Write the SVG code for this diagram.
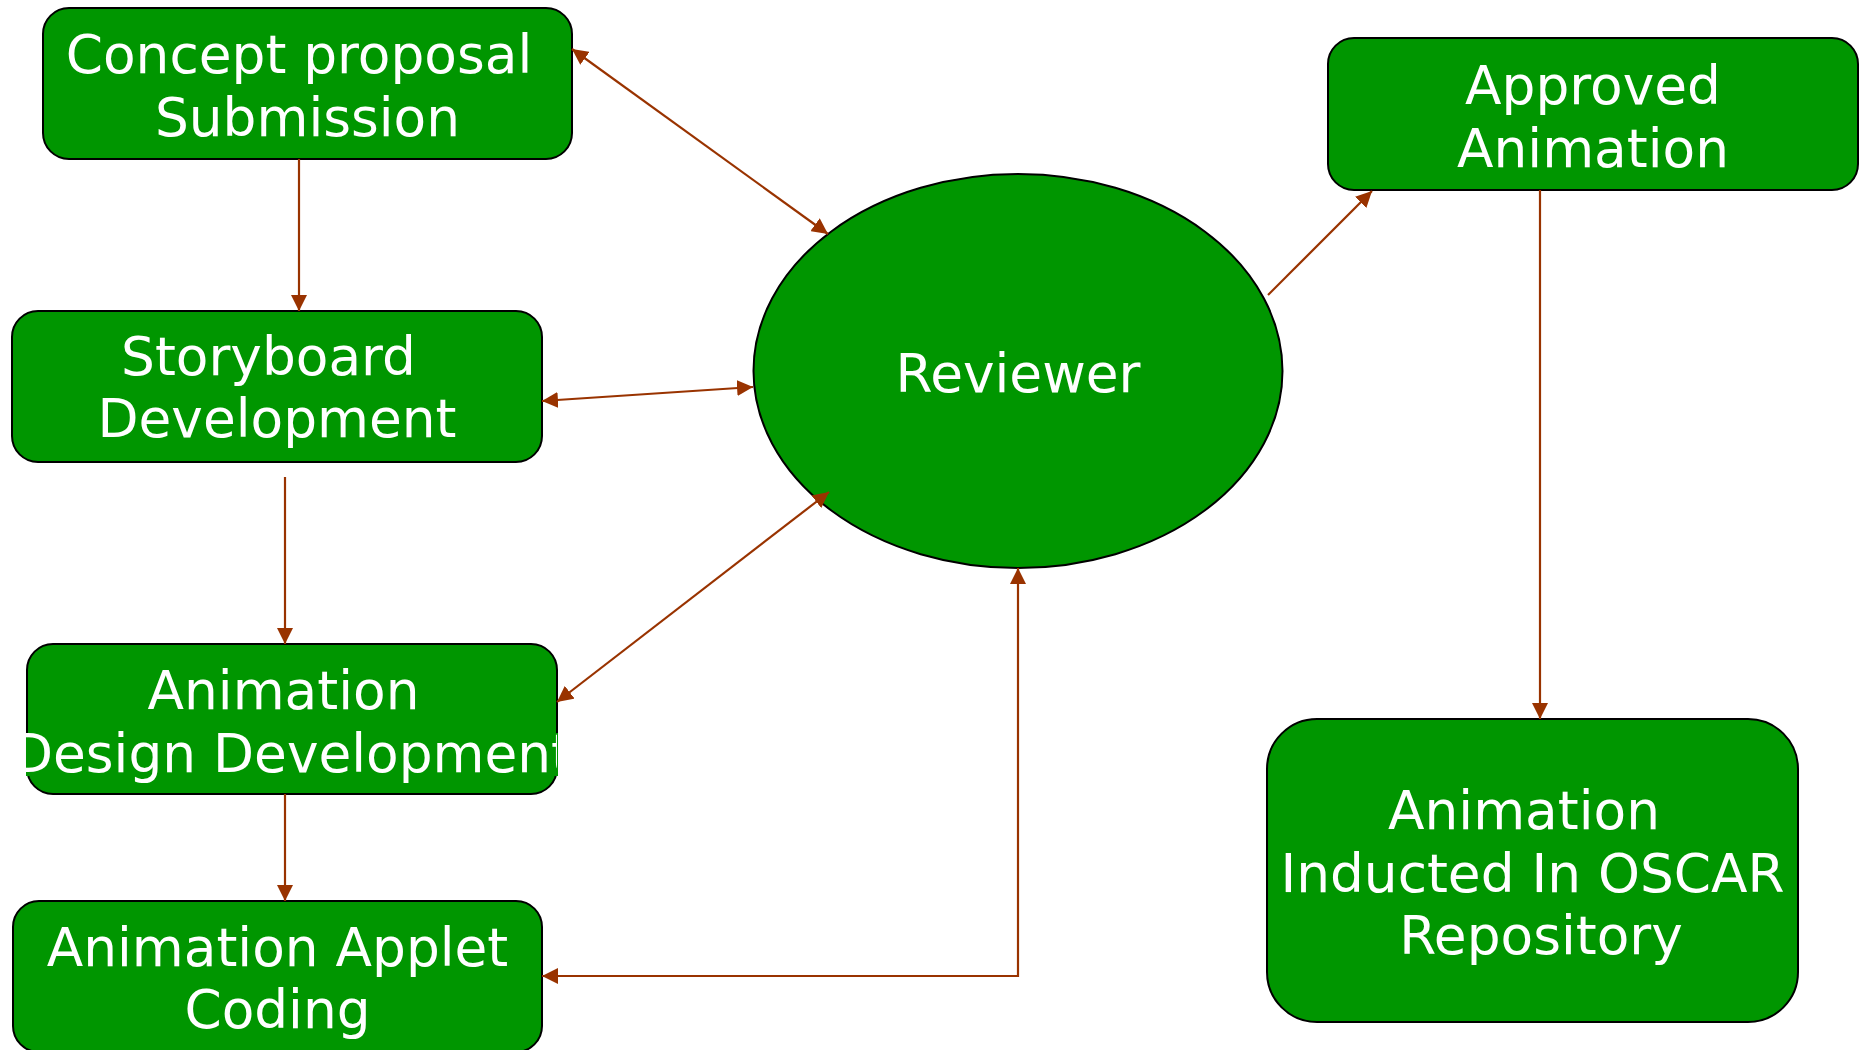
<svg xmlns="http://www.w3.org/2000/svg" width="1869" height="1050" viewBox="0 0 1869 1050">
<style>
.box{fill:#009600;stroke:#000;stroke-width:2}
.t{font-family:"DejaVu Sans",sans-serif;font-size:53.33px;fill:#fff;text-anchor:middle}
.c{fill:none;stroke:#993300;stroke-width:2.2}
</style>
<defs>
<marker id="ah" markerUnits="userSpaceOnUse" markerWidth="17" markerHeight="16" refX="16" refY="8" orient="auto-start-reverse">
<path d="M0,0 L16,8 L0,16 z" fill="#993300"/>
</marker>
<clipPath id="adclip"><rect x="25" y="600" width="532" height="250"/></clipPath>
</defs>
<rect width="1869" height="1050" fill="#fff"/>
<g id="concept">
<rect class="box" x="43" y="8" width="529" height="151" rx="26"/>
<text class="t" x="299" y="73">Concept proposal</text>
<text class="t" x="307.5" y="136">Submission</text>
</g>
<g id="storyboard">
<rect class="box" x="12" y="311" width="530" height="151" rx="26"/>
<text class="t" x="268.5" y="375">Storyboard</text>
<text class="t" x="277" y="437">Development</text>
</g>
<g id="animdesign">
<rect class="box" x="27" y="644" width="530" height="150" rx="26"/>
<rect x="26" y="733" width="532" height="43" fill="#009600"/>
<text class="t" x="283.5" y="709">Animation</text>
<text class="t" x="292" y="772" clip-path="url(#adclip)">Design Development</text>
</g>
<g id="applet">
<rect class="box" x="13" y="901" width="529" height="151" rx="26"/>
<text class="t" x="277.5" y="966">Animation Applet</text>
<text class="t" x="277.5" y="1028">Coding</text>
</g>
<g id="reviewer">
<ellipse class="box" cx="1018" cy="371" rx="264.5" ry="197"/>
<text class="t" x="1018" y="392">Reviewer</text>
</g>
<g id="approved">
<rect class="box" x="1328" y="38" width="530" height="152" rx="26"/>
<text class="t" x="1593" y="104">Approved</text>
<text class="t" x="1593" y="167">Animation</text>
</g>
<g id="oscar">
<rect class="box" x="1267" y="719" width="531" height="303" rx="50"/>
<text class="t" x="1524" y="829">Animation</text>
<text class="t" x="1532.5" y="892">Inducted In OSCAR</text>
<text class="t" x="1541" y="954">Repository</text>
</g>
<g id="connectors">
<line class="c" x1="572" y1="49" x2="828" y2="234" marker-start="url(#ah)" marker-end="url(#ah)"/>
<line class="c" x1="299" y1="159" x2="299" y2="311" marker-end="url(#ah)"/>
<line class="c" x1="542" y1="401" x2="753" y2="387" marker-start="url(#ah)" marker-end="url(#ah)"/>
<line class="c" x1="285" y1="477" x2="285" y2="644" marker-end="url(#ah)"/>
<line class="c" x1="557" y1="702" x2="829" y2="492" marker-start="url(#ah)" marker-end="url(#ah)"/>
<line class="c" x1="285" y1="794" x2="285" y2="901" marker-end="url(#ah)"/>
<polyline class="c" points="1018,568 1018,976 542,976" marker-start="url(#ah)" marker-end="url(#ah)"/>
<line class="c" x1="1268" y1="295" x2="1372" y2="191" marker-end="url(#ah)"/>
<line class="c" x1="1540" y1="190" x2="1540" y2="719" marker-end="url(#ah)"/>
</g>
</svg>
